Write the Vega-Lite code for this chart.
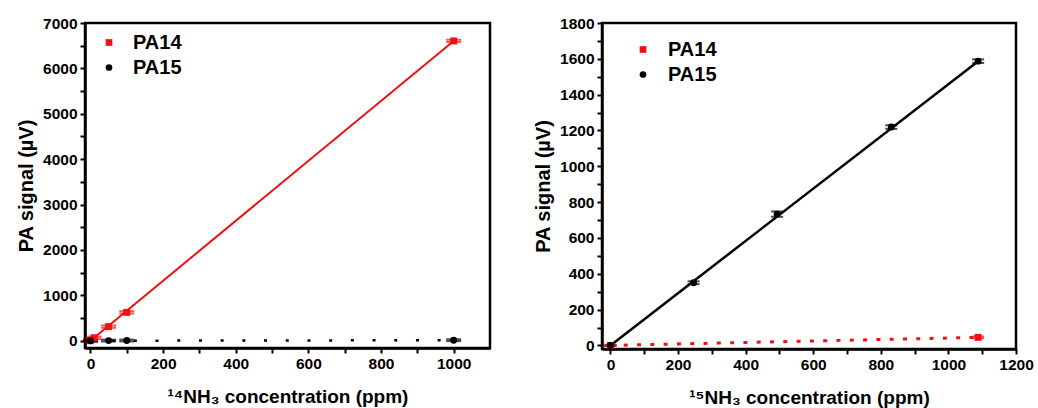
{
  "$schema": "https://vega.github.io/schema/vega-lite/v6.json",
  "padding": {"left": 15, "top": 14, "right": 5, "bottom": 5},
  "spacing": 40,
  "datasets": {
    "a_pts": [
      {"conc": 0, "signal": 0, "lo": -25, "hi": 25, "series": "PA14"},
      {"conc": 10, "signal": 66, "lo": 41, "hi": 91, "series": "PA14"},
      {"conc": 50, "signal": 310, "lo": 285, "hi": 335, "series": "PA14"},
      {"conc": 100, "signal": 625, "lo": 600, "hi": 650, "series": "PA14"},
      {"conc": 1000, "signal": 6605, "lo": 6580, "hi": 6630, "series": "PA14"},
      {"conc": 0, "signal": 0, "lo": -20, "hi": 20, "series": "PA15"},
      {"conc": 50, "signal": 3, "lo": -17, "hi": 23, "series": "PA15"},
      {"conc": 100, "signal": 5, "lo": -15, "hi": 25, "series": "PA15"},
      {"conc": 1000, "signal": 12, "lo": -8, "hi": 32, "series": "PA15"}
    ],
    "a_fit": [
      {"conc": 0, "signal": 0, "series": "PA14"},
      {"conc": 1000, "signal": 6605, "series": "PA14"},
      {"conc": 0, "signal": 0, "series": "PA15"},
      {"conc": 1000, "signal": 12, "series": "PA15"}
    ],
    "b_pts": [
      {"conc": 0, "signal": 0, "lo": -3, "hi": 3, "series": "PA14"},
      {"conc": 1088, "signal": 45, "lo": 40, "hi": 50, "series": "PA14"},
      {"conc": 0, "signal": 0, "lo": -3, "hi": 3, "series": "PA15"},
      {"conc": 246, "signal": 350, "lo": 342, "hi": 358, "series": "PA15"},
      {"conc": 493, "signal": 733, "lo": 718, "hi": 748, "series": "PA15"},
      {"conc": 831, "signal": 1219, "lo": 1209, "hi": 1229, "series": "PA15"},
      {"conc": 1088, "signal": 1587, "lo": 1577, "hi": 1597, "series": "PA15"}
    ],
    "b_fit": [
      {"conc": 0, "signal": 0, "series": "PA14"},
      {"conc": 1088, "signal": 45, "series": "PA14"},
      {"conc": 0, "signal": 0, "series": "PA15"},
      {"conc": 1088, "signal": 1587, "series": "PA15"}
    ],
    "one": [{}]
  },
  "hconcat": [
    {
      "width": 405,
      "height": 325,
      "encoding": {
        "x": {"field": "conc", "type": "quantitative", "scale": {"domain": [-15, 1100], "nice": false, "zero": false},
          "axis": {"title": "¹⁴NH₃ concentration (ppm)", "values": [0,100,200,300,400,500,600,700,800,900,1000], "labelExpr": "datum.value % 200 === 0 ? datum.label : ''", "labelOverlap": false}},
        "y": {"field": "signal", "type": "quantitative", "scale": {"domain": [-160, 7000], "nice": false, "zero": false},
          "axis": {"title": "PA signal (µV)", "values": [0,500,1000,1500,2000,2500,3000,3500,4000,4500,5000,5500,6000,6500,7000], "labelExpr": "datum.value % 1000 === 0 ? datum.label : ''", "labelOverlap": false}}
      },
      "layer": [
        {
          "data": {"name": "a_fit"},
          "transform": [{"filter": "datum.series === 'PA15'"}],
          "mark": {"type": "line", "color": "black", "strokeWidth": 2.5, "strokeDash": [3, 18.7]}
        },
        {
          "data": {"name": "a_fit"},
          "transform": [{"filter": "datum.series === 'PA14'"}],
          "mark": {"type": "line", "color": "#f01010", "strokeWidth": 2}
        },
        {
          "data": {"name": "a_pts"},
          "transform": [{"filter": "datum.series === 'PA14'"}],
          "mark": {"type": "rule", "strokeWidth": 2, "color": "#f01010"},
          "encoding": {"y": {"field": "lo", "type": "quantitative", "axis": {"title": "PA signal (µV)", "values": [0,500,1000,1500,2000,2500,3000,3500,4000,4500,5000,5500,6000,6500,7000], "labelExpr": "datum.value % 1000 === 0 ? datum.label : ''", "labelOverlap": false}}, "y2": {"field": "hi"}}
        },
        {
          "data": {"name": "a_pts"},
          "transform": [{"filter": "datum.series === 'PA14'"}],
          "mark": {"type": "tick", "orient": "horizontal", "size": 15, "thickness": 2, "color": "#f01010"},
          "encoding": {"y": {"field": "lo", "type": "quantitative", "axis": {"title": "PA signal (µV)", "values": [0,500,1000,1500,2000,2500,3000,3500,4000,4500,5000,5500,6000,6500,7000], "labelExpr": "datum.value % 1000 === 0 ? datum.label : ''", "labelOverlap": false}}}
        },
        {
          "data": {"name": "a_pts"},
          "transform": [{"filter": "datum.series === 'PA14'"}],
          "mark": {"type": "tick", "orient": "horizontal", "size": 15, "thickness": 2, "color": "#f01010"},
          "encoding": {"y": {"field": "hi", "type": "quantitative", "axis": {"title": "PA signal (µV)", "values": [0,500,1000,1500,2000,2500,3000,3500,4000,4500,5000,5500,6000,6500,7000], "labelExpr": "datum.value % 1000 === 0 ? datum.label : ''", "labelOverlap": false}}}
        },
        {
          "data": {"name": "a_pts"},
          "transform": [{"filter": "datum.series === 'PA15'"}],
          "mark": {"type": "rule", "strokeWidth": 2, "color": "black"},
          "encoding": {"y": {"field": "lo", "type": "quantitative", "axis": {"title": "PA signal (µV)", "values": [0,500,1000,1500,2000,2500,3000,3500,4000,4500,5000,5500,6000,6500,7000], "labelExpr": "datum.value % 1000 === 0 ? datum.label : ''", "labelOverlap": false}}, "y2": {"field": "hi"}}
        },
        {
          "data": {"name": "a_pts"},
          "transform": [{"filter": "datum.series === 'PA15'"}],
          "mark": {"type": "tick", "orient": "horizontal", "size": 15, "thickness": 2, "color": "black"},
          "encoding": {"y": {"field": "lo", "type": "quantitative", "axis": {"title": "PA signal (µV)", "values": [0,500,1000,1500,2000,2500,3000,3500,4000,4500,5000,5500,6000,6500,7000], "labelExpr": "datum.value % 1000 === 0 ? datum.label : ''", "labelOverlap": false}}}
        },
        {
          "data": {"name": "a_pts"},
          "transform": [{"filter": "datum.series === 'PA15'"}],
          "mark": {"type": "tick", "orient": "horizontal", "size": 15, "thickness": 2, "color": "black"},
          "encoding": {"y": {"field": "hi", "type": "quantitative", "axis": {"title": "PA signal (µV)", "values": [0,500,1000,1500,2000,2500,3000,3500,4000,4500,5000,5500,6000,6500,7000], "labelExpr": "datum.value % 1000 === 0 ? datum.label : ''", "labelOverlap": false}}}
        },
        {
          "data": {"name": "a_pts"},
          "mark": {"type": "point", "filled": true, "size": 48, "opacity": 1},
          "encoding": {
            "color": {"field": "series", "type": "nominal", "scale": {"domain": ["PA14", "PA15"], "range": ["#f01010", "black"]},
              "legend": {"title": null, "orient": "none", "legendX": 14, "legendY": 9.5, "symbolSize": 45, "labelFontSize": 20, "labelFontWeight": "bold", "labelFont": "Liberation Sans", "labelColor": "black", "labelOffset": 14, "rowPadding": 5, "symbolStrokeWidth": 0}},
            "shape": {"field": "series", "type": "nominal", "scale": {"domain": ["PA14", "PA15"], "range": ["square", "circle"]},
              "legend": {"title": null, "orient": "none", "legendX": 14, "legendY": 9.5, "symbolSize": 45, "labelFontSize": 20, "labelFontWeight": "bold", "labelFont": "Liberation Sans", "labelColor": "black", "labelOffset": 14, "rowPadding": 5, "symbolStrokeWidth": 0}}
          }
        },
        {
          "data": {"name": "one"},
          "mark": {"type": "text", "text": "a", "fontSize": 21, "fontWeight": "bold", "color": "black", "font": "Liberation Sans"},
          "encoding": {
            "x": {"datum": 1057, "type": "quantitative"},
            "y": {"datum": 6729, "type": "quantitative"}
          }
        }
      ]
    },
    {
      "width": 414,
      "height": 326,
      "encoding": {
        "x": {"field": "conc", "type": "quantitative", "scale": {"domain": [-25, 1200], "nice": false, "zero": false},
          "axis": {"title": "¹⁵NH₃ concentration (ppm)", "values": [0,100,200,300,400,500,600,700,800,900,1000,1100,1200], "labelExpr": "datum.value % 200 === 0 ? datum.label : ''", "labelOverlap": false}},
        "y": {"field": "signal", "type": "quantitative", "scale": {"domain": [-20, 1800], "nice": false, "zero": false},
          "axis": {"title": "PA signal (µV)", "values": [0,100,200,300,400,500,600,700,800,900,1000,1100,1200,1300,1400,1500,1600,1700,1800], "labelExpr": "datum.value % 200 === 0 ? datum.label : ''", "labelOverlap": false}}
      },
      "layer": [
        {
          "data": {"name": "b_fit"},
          "transform": [{"filter": "datum.series === 'PA15'"}],
          "mark": {"type": "line", "color": "black", "strokeWidth": 2.5}
        },
        {
          "data": {"name": "b_fit"},
          "transform": [{"filter": "datum.series === 'PA14'"}],
          "mark": {"type": "line", "color": "#f01010", "strokeWidth": 3, "strokeDash": [4, 9.3]}
        },
        {
          "data": {"name": "b_pts"},
          "transform": [{"filter": "datum.series === 'PA15'"}],
          "mark": {"type": "rule", "strokeWidth": 2, "color": "black"},
          "encoding": {"y": {"field": "lo", "type": "quantitative", "axis": {"title": "PA signal (µV)", "values": [0,100,200,300,400,500,600,700,800,900,1000,1100,1200,1300,1400,1500,1600,1700,1800], "labelExpr": "datum.value % 200 === 0 ? datum.label : ''", "labelOverlap": false}}, "y2": {"field": "hi"}}
        },
        {
          "data": {"name": "b_pts"},
          "transform": [{"filter": "datum.series === 'PA15'"}],
          "mark": {"type": "tick", "orient": "horizontal", "size": 12, "thickness": 2, "color": "black"},
          "encoding": {"y": {"field": "lo", "type": "quantitative", "axis": {"title": "PA signal (µV)", "values": [0,100,200,300,400,500,600,700,800,900,1000,1100,1200,1300,1400,1500,1600,1700,1800], "labelExpr": "datum.value % 200 === 0 ? datum.label : ''", "labelOverlap": false}}}
        },
        {
          "data": {"name": "b_pts"},
          "transform": [{"filter": "datum.series === 'PA15'"}],
          "mark": {"type": "tick", "orient": "horizontal", "size": 12, "thickness": 2, "color": "black"},
          "encoding": {"y": {"field": "hi", "type": "quantitative", "axis": {"title": "PA signal (µV)", "values": [0,100,200,300,400,500,600,700,800,900,1000,1100,1200,1300,1400,1500,1600,1700,1800], "labelExpr": "datum.value % 200 === 0 ? datum.label : ''", "labelOverlap": false}}}
        },
        {
          "data": {"name": "b_pts"},
          "transform": [{"filter": "datum.series === 'PA14'"}],
          "mark": {"type": "rule", "strokeWidth": 2, "color": "#f01010"},
          "encoding": {"y": {"field": "lo", "type": "quantitative", "axis": {"title": "PA signal (µV)", "values": [0,100,200,300,400,500,600,700,800,900,1000,1100,1200,1300,1400,1500,1600,1700,1800], "labelExpr": "datum.value % 200 === 0 ? datum.label : ''", "labelOverlap": false}}, "y2": {"field": "hi"}}
        },
        {
          "data": {"name": "b_pts"},
          "transform": [{"filter": "datum.series === 'PA14'"}],
          "mark": {"type": "tick", "orient": "horizontal", "size": 12, "thickness": 2, "color": "#f01010"},
          "encoding": {"y": {"field": "lo", "type": "quantitative", "axis": {"title": "PA signal (µV)", "values": [0,100,200,300,400,500,600,700,800,900,1000,1100,1200,1300,1400,1500,1600,1700,1800], "labelExpr": "datum.value % 200 === 0 ? datum.label : ''", "labelOverlap": false}}}
        },
        {
          "data": {"name": "b_pts"},
          "transform": [{"filter": "datum.series === 'PA14'"}],
          "mark": {"type": "tick", "orient": "horizontal", "size": 12, "thickness": 2, "color": "#f01010"},
          "encoding": {"y": {"field": "hi", "type": "quantitative", "axis": {"title": "PA signal (µV)", "values": [0,100,200,300,400,500,600,700,800,900,1000,1100,1200,1300,1400,1500,1600,1700,1800], "labelExpr": "datum.value % 200 === 0 ? datum.label : ''", "labelOverlap": false}}}
        },
        {
          "data": {"name": "b_pts"},
          "mark": {"type": "point", "filled": true, "size": 48, "opacity": 1},
          "encoding": {
            "color": {"field": "series", "type": "nominal", "scale": {"domain": ["PA14", "PA15"], "range": ["#f01010", "black"]},
              "legend": {"title": null, "orient": "none", "legendX": 31, "legendY": 16.5, "symbolSize": 45, "labelFontSize": 20, "labelFontWeight": "bold", "labelFont": "Liberation Sans", "labelColor": "black", "labelOffset": 15, "rowPadding": 5, "symbolStrokeWidth": 0}},
            "shape": {"field": "series", "type": "nominal", "scale": {"domain": ["PA14", "PA15"], "range": ["square", "circle"]},
              "legend": {"title": null, "orient": "none", "legendX": 31, "legendY": 16.5, "symbolSize": 45, "labelFontSize": 20, "labelFontWeight": "bold", "labelFont": "Liberation Sans", "labelColor": "black", "labelOffset": 15, "rowPadding": 5, "symbolStrokeWidth": 0}}
          }
        },
        {
          "data": {"name": "one"},
          "mark": {"type": "text", "text": "b", "fontSize": 21, "fontWeight": "bold", "color": "black", "font": "Liberation Sans"},
          "encoding": {
            "x": {"datum": 1175, "type": "quantitative"},
            "y": {"datum": 1708, "type": "quantitative"}
          }
        }
      ]
    }
  ],
  "resolve": {"scale": {"color": "independent", "shape": "independent"}, "legend": {"color": "independent", "shape": "independent"}},
  "config": {
    "font": "Liberation Sans",
    "background": "white",
    "view": {"stroke": "black", "strokeWidth": 2.5},
    "axis": {"domainColor": "black", "domainWidth": 2.5, "tickColor": "black", "tickWidth": 2, "tickSize": 5, "labelFont": "Liberation Sans", "labelFontWeight": "bold", "labelFontSize": 15.5, "labelColor": "black", "labelPadding": 3, "labelOverlap": false, "labelFlush": false, "format": "d", "titleFont": "Liberation Sans", "titleFontWeight": "bold", "titleFontSize": 19, "titleColor": "black", "grid": false},
    "axisX": {"titlePadding": 16},
    "axisY": {"titlePadding": 6, "titleFontSize": 20}
  }
}
